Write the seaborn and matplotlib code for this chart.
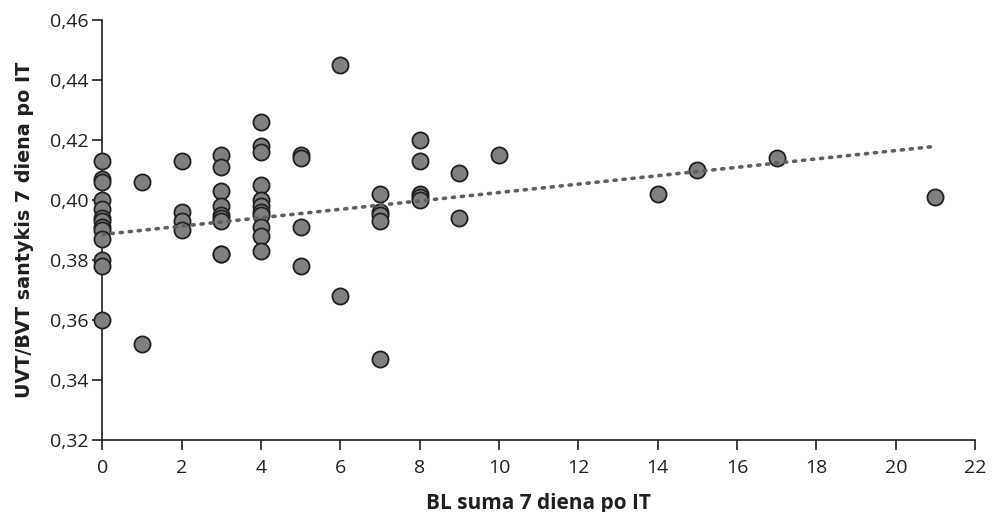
import numpy as np
import pandas as pd
import seaborn as sns
import matplotlib.pyplot as plt
from matplotlib.ticker import FuncFormatter

# BL suma 7 diena po IT
bl_sum = [0]*13 + [1]*2 + [2]*4 + [3]*9 + [4]*11 + [5]*4 + [6]*2 + [7]*5 + [8]*5 + [9]*2 + [10, 14, 15, 17, 21]
# UVT/BVT santykis 7 diena po IT
ratio = [0.413, 0.407, 0.406, 0.400, 0.397, 0.394, 0.393, 0.391, 0.390, 0.387, 0.380, 0.378, 0.360,
         0.406, 0.352,
         0.413, 0.396, 0.393, 0.390,
         0.415, 0.411, 0.403, 0.398, 0.395, 0.394, 0.393, 0.382, 0.382,
         0.426, 0.418, 0.416, 0.405, 0.400, 0.398, 0.396, 0.395, 0.391, 0.388, 0.383,
         0.415, 0.414, 0.391, 0.378,
         0.445, 0.368,
         0.402, 0.396, 0.395, 0.393, 0.347,
         0.420, 0.413, 0.402, 0.401, 0.400,
         0.409, 0.394,
         0.415, 0.402, 0.410, 0.414, 0.401]

# trend line as printed in the original (intercept, slope, x range)
trend_intercept = 0.3885
trend_slope = 0.0014
trend_x = [0, 21]

df = pd.DataFrame({"x": bl_sum, "y": ratio})
trend = pd.DataFrame({"x": trend_x})
trend["y"] = trend_intercept + trend_slope * trend["x"]

sns.set_style("ticks")
plt.rcParams['font.family'] = ['Open Sans', 'DejaVu Sans']

fig = plt.figure(figsize=(9.93, 5.12), dpi=100)
ax = fig.add_axes([0.103, 0.1406, 0.879, 0.8203])

sns.scatterplot(data=df, x="x", y="y", ax=ax, s=135, color="#808083",
                edgecolor="#231f20", linewidth=1.3, alpha=1, zorder=3, clip_on=False)
sns.lineplot(data=trend, x="x", y="y", ax=ax, color="#606062", lw=2.6,
             linestyle=(0, (0.6, 1.9)), dash_capstyle="round", zorder=4)

ax.set_xlim(0, 22)
ax.set_ylim(0.32, 0.46)
ax.set_xticks(range(0, 23, 2))
ax.set_yticks(np.arange(0.32, 0.461, 0.02))
ax.yaxis.set_major_formatter(FuncFormatter(lambda v, p: f"{v:.2f}".replace(".", ",")))
ax.tick_params(labelsize=14, length=7, width=1.2, color="#231f20", labelcolor="#231f20")
ax.tick_params(axis="x", pad=7)
ax.tick_params(axis="y", pad=3)
for s in ["left", "bottom"]:
    ax.spines[s].set_color("#231f20")
    ax.spines[s].set_linewidth(1.2)
sns.despine(ax=ax)
ax.set_xlabel("BL suma 7 diena po IT", fontsize=15, fontweight="bold", color="#231f20", labelpad=11)
ax.set_ylabel("UVT/BVT santykis 7 diena po IT", fontsize=13.8, fontweight="bold", color="#231f20",
              family="DejaVu Sans", labelpad=11)

fig.savefig("out.png", dpi=100)
